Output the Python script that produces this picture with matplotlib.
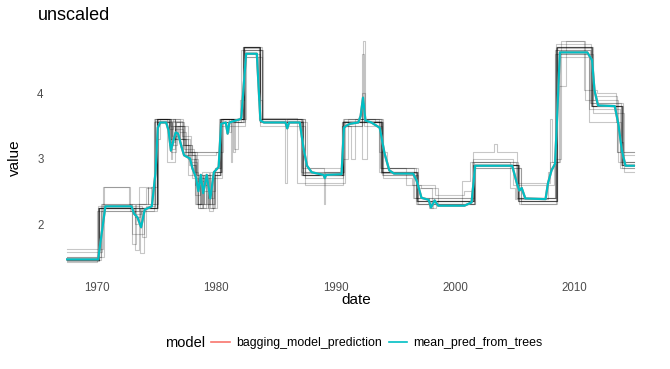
import matplotlib
matplotlib.use('Agg')
import matplotlib.pyplot as plt
from matplotlib.lines import Line2D

plt.rcParams['font.family'] = ['Liberation Sans', 'DejaVu Sans']

# mean of the tree predictions (teal line)
mean_pred = [
    (1967.5, 1.46), (1970.1, 1.46), (1970.7, 2.27), (1972.9, 2.27), (1973.1, 2.16),
    (1973.4, 2.10), (1973.7, 1.95), (1974.0, 2.22), (1974.6, 2.27), (1974.9, 2.77),
    (1975.1, 3.47), (1975.3, 3.55), (1975.8, 3.55), (1976.0, 3.43), (1976.2, 3.12),
    (1976.4, 3.27), (1976.6, 3.40), (1976.8, 3.38), (1977.1, 3.17), (1977.3, 3.05),
    (1977.8, 3.00), (1978.0, 2.85), (1978.3, 2.71), (1978.5, 2.50), (1978.7, 2.75),
    (1978.9, 2.47), (1979.2, 2.75), (1979.5, 2.39), (1979.8, 2.79), (1980.2, 2.87),
    (1980.4, 3.53), (1980.8, 3.55), (1980.95, 3.38), (1981.1, 3.55), (1982.0, 3.60),
    (1982.1, 3.62), (1982.5, 4.60), (1983.4, 4.60), (1983.7, 3.58), (1984.0, 3.55),
    (1985.8, 3.55), (1985.95, 3.46), (1986.1, 3.55), (1987.0, 3.55), (1987.3, 3.17),
    (1987.6, 2.89), (1988.0, 2.79), (1989.0, 2.75), (1989.1, 2.70), (1989.2, 2.75),
    (1990.5, 2.76), (1990.7, 3.47), (1990.9, 3.50), (1991.2, 3.53), (1991.9, 3.55),
    (1992.1, 3.65), (1992.3, 3.93), (1992.5, 3.58), (1993.0, 3.55), (1993.7, 3.47),
    (1994.1, 3.08), (1994.5, 2.82), (1994.9, 2.77), (1996.5, 2.77), (1996.8, 2.66),
    (1997.2, 2.40), (1997.8, 2.37), (1998.0, 2.25), (1998.3, 2.36), (1998.6, 2.28),
    (2000.8, 2.28), (2001.4, 2.33), (2001.7, 2.89), (2004.8, 2.89), (2005.2, 2.62),
    (2005.4, 2.51), (2005.6, 2.55), (2005.9, 2.39), (2007.6, 2.38), (2007.8, 2.62),
    (2008.1, 2.82), (2008.4, 2.92), (2008.8, 4.62), (2011.1, 4.62), (2011.5, 4.50),
    (2011.7, 4.04), (2012.0, 3.81), (2013.4, 3.80), (2013.7, 3.53), (2014.0, 3.12),
    (2014.3, 2.89), (2015.0, 2.89),
]
# bagging prediction sits exactly under the mean line
bagging_pred = list(mean_pred)

# individual trees, step functions (start date, value)
tree_01 = [(1967.5,1.45),(1970.2,2.25),(1973.0,2.2),(1974.0,2.25),(1975.0,3.6),(1976.1,3.15),(1976.5,3.5),(1977.4,3.05),(1978.3,2.75),(1978.6,2.25),(1978.9,2.75),(1979.5,2.25),(1979.8,2.8),(1980.4,3.6),(1982.3,4.7),(1983.7,3.6),(1987.3,2.75),(1990.6,3.55),(1993.9,2.8),(1996.8,2.35),(2001.6,2.9),(2005.3,2.35),(2008.6,4.7),(2011.5,3.8),(2014.0,2.9),(2015.0,2.9)]
tree_02 = [(1967.5,1.42),(1970.0,2.2),(1973.2,2.0),(1973.7,2.2),(1974.8,3.55),(1976.0,3.3),(1976.3,3.55),(1977.0,3.2),(1977.8,2.95),(1978.4,2.3),(1978.7,2.7),(1979.2,2.3),(1979.6,2.75),(1980.3,3.55),(1982.1,4.65),(1983.8,3.55),(1987.1,2.8),(1990.5,3.5),(1992.2,4.0),(1992.5,3.55),(1993.7,2.85),(1996.6,2.4),(2001.4,2.95),(2005.1,2.4),(2008.4,4.6),(2011.2,3.75),(2013.8,2.85),(2015.0,2.85)]
tree_03 = [(1967.5,1.62),(1970.5,2.57),(1972.8,2.2),(1973.5,2.57),(1974.3,2.3),(1974.9,3.6),(1976.2,3.6),(1976.5,3.3),(1977.8,3.1),(1980.3,3.6),(1981.4,3.1),(1981.6,3.6),(1982.2,4.7),(1983.6,3.6),(1987.4,2.6),(1990.6,3.0),(1991.0,3.6),(1993.9,2.85),(1996.9,2.55),(1998.1,2.35),(2001.5,3.1),(2003.3,3.22),(2003.5,3.1),(2005.2,2.62),(2008.0,2.95),(2008.7,4.1),(2009.3,4.8),(2010.9,3.9),(2011.8,3.95),(2013.6,3.1),(2015.0,3.1)]
tree_04 = [(1967.5,1.5),(1970.3,2.3),(1972.9,1.7),(1973.3,2.3),(1974.1,2.55),(1974.6,2.3),(1975.1,3.55),(1976.0,3.2),(1976.7,3.5),(1977.1,3.3),(1977.6,2.75),(1978.1,3.0),(1978.5,2.25),(1979.3,2.7),(1980.5,3.55),(1981.2,2.95),(1981.35,3.55),(1982.4,4.65),(1983.9,3.6),(1985.8,2.62),(1985.95,3.6),(1987.2,2.85),(1989.0,2.3),(1989.15,2.8),(1990.7,3.6),(1992.3,4.8),(1992.45,3.6),(1994.0,2.75),(1996.7,2.3),(2001.7,2.85),(2005.5,2.3),(2008.5,4.75),(2011.4,3.85),(2014.1,2.95),(2015.0,2.95)]
tree_05 = [(1967.5,1.45),(1970.2,2.25),(1973.6,1.55),(1973.9,2.25),(1975.0,3.6),(1976.2,3.1),(1976.6,3.55),(1977.3,3.2),(1978.0,2.7),(1978.5,2.25),(1978.8,2.8),(1979.4,2.2),(1979.7,2.75),(1980.3,3.6),(1982.3,4.7),(1983.7,3.55),(1987.3,2.75),(1990.6,3.55),(1993.8,2.8),(1996.8,2.3),(2001.6,2.9),(2005.4,2.3),(2008.6,4.7),(2011.5,3.8),(2014.0,2.85),(2015.0,2.85)]
tree_06 = [(1967.5,1.45),(1970.1,2.25),(1973.1,2.25),(1975.0,3.6),(1976.0,3.45),(1976.4,3.6),(1977.0,3.3),(1977.5,3.1),(1978.2,2.45),(1978.6,2.7),(1979.0,2.3),(1979.5,2.8),(1980.4,3.6),(1982.2,4.7),(1983.6,3.6),(1987.2,2.75),(1990.5,3.55),(1993.6,2.8),(1996.5,2.4),(1997.8,2.25),(1998.2,2.35),(2001.5,2.9),(2005.2,2.4),(2008.4,4.65),(2011.3,3.85),(2013.9,2.9),(2015.0,2.9)]
tree_07 = [(1967.5,1.58),(1970.4,2.3),(1974.3,2.57),(1974.8,3.6),(1975.9,2.95),(1976.5,3.45),(1977.2,3.1),(1980.2,3.6),(1982.0,3.9),(1982.3,4.55),(1983.8,3.62),(1986.8,2.62),(1990.8,3.55),(1992.2,3.0),(1992.6,3.6),(1993.6,3.1),(1994.3,2.85),(1995.9,2.6),(1997.2,2.55),(1998.6,2.3),(2000.6,2.65),(2001.3,2.95),(2004.6,2.55),(2005.0,2.38),(2007.8,2.8),(2008.0,3.6),(2008.1,2.95),(2008.8,4.55),(2011.2,3.55),(2013.6,3.1),(2013.8,3.25),(2014.1,3.05),(2015.0,3.05)]
tree_08 = [(1967.5,1.45),(1970.3,2.2),(1972.9,1.85),(1973.9,2.2),(1975.0,3.55),(1976.3,3.35),(1976.8,3.5),(1977.6,3.0),(1978.3,2.65),(1979.0,2.5),(1979.9,2.85),(1980.4,3.5),(1982.4,4.6),(1983.7,3.5),(1987.4,2.7),(1990.6,3.5),(1992.2,4.6),(1992.4,3.5),(1993.9,2.75),(1996.9,2.3),(2001.7,2.85),(2005.5,2.35),(2008.6,4.6),(2011.6,3.7),(2014.2,2.8),(2015.0,2.8)]
tree_09 = [(1967.5,1.45),(1970.2,2.25),(1973.2,2.1),(1973.6,2.25),(1975.0,3.6),(1976.1,3.2),(1976.4,3.5),(1977.3,3.15),(1978.1,2.8),(1978.5,2.3),(1979.0,2.75),(1979.6,2.3),(1979.9,2.85),(1980.3,3.6),(1982.3,4.68),(1983.7,3.58),(1987.3,2.78),(1990.6,3.58),(1993.8,2.78),(1996.8,2.35),(1998.0,2.25),(1998.4,2.3),(2001.6,2.9),(2005.3,2.4),(2008.5,4.68),(2011.5,3.8),(2013.9,2.95),(2015.0,2.95)]
tree_10 = [(1967.5,1.5),(1970.6,2.57),(1972.7,2.3),(1973.2,1.6),(1973.5,2.3),(1974.5,2.57),(1975.0,3.3),(1975.3,3.6),(1976.5,3.3),(1977.4,3.2),(1978.0,3.05),(1980.0,3.1),(1980.6,3.6),(1981.5,3.15),(1981.8,3.6),(1982.5,4.55),(1983.5,3.9),(1983.8,3.55),(1987.6,2.85),(1990.5,3.5),(1991.3,3.0),(1991.6,3.6),(1993.3,3.55),(1994.0,2.7),(1996.4,2.6),(1998.3,2.45),(2000.8,2.5),(2001.5,3.0),(2004.9,2.6),(2008.3,3.0),(2008.9,4.8),(2010.8,4.05),(2011.9,4.0),(2013.5,3.55),(2013.9,3.1),(2015.0,3.1)]
tree_11 = [(1967.5,1.45),(1970.1,2.28),(1973.4,2.28),(1973.8,1.8),(1974.1,2.28),(1974.9,3.58),(1976.2,3.0),(1976.3,3.58),(1977.1,3.35),(1977.9,2.9),(1978.2,2.3),(1978.8,2.6),(1979.3,2.25),(1980.1,2.8),(1980.5,3.6),(1981.1,3.4),(1981.2,3.6),(1982.2,4.7),(1983.8,3.6),(1987.1,2.75),(1990.7,3.55),(1993.9,2.8),(1996.7,2.35),(2001.5,2.9),(2005.4,2.35),(2008.6,4.7),(2011.4,3.8),(2014.0,2.9),(2015.0,2.9)]
tree_12 = [(1967.5,1.45),(1970.2,2.25),(1973.0,2.25),(1974.9,3.6),(1975.9,3.6),(1976.2,3.3),(1976.6,3.55),(1977.2,3.1),(1978.4,2.75),(1978.9,2.25),(1979.1,2.75),(1979.6,2.25),(1979.9,2.75),(1980.4,3.55),(1982.3,4.7),(1983.7,3.55),(1987.3,2.75),(1990.6,3.55),(1992.2,3.85),(1992.4,3.55),(1993.8,2.8),(1996.8,2.35),(2001.6,2.9),(2005.3,2.35),(2008.6,4.7),(2011.5,3.8),(2014.0,2.9),(2015.0,2.9)]
tree_13 = [(1967.5,1.43),(1970.2,2.25),(1973.1,2.15),(1973.7,2.25),(1975.1,3.6),(1976.0,3.25),(1976.5,3.6),(1977.2,3.2),(1977.7,2.9),(1978.3,2.3),(1978.7,2.75),(1979.3,2.4),(1979.8,2.8),(1980.4,3.6),(1982.3,4.7),(1983.7,3.6),(1987.4,2.8),(1990.6,3.6),(1993.8,2.85),(1996.7,2.4),(2001.6,2.95),(2005.3,2.4),(2008.5,4.7),(2011.6,3.9),(2013.7,2.95),(2015.0,2.95)]
tree_14 = [(1967.5,1.47),(1970.1,2.25),(1973.2,2.25),(1975.0,3.55),(1976.1,3.5),(1976.9,3.4),(1977.5,3.05),(1978.2,2.6),(1978.6,2.3),(1979.1,2.7),(1979.4,2.3),(1979.8,2.75),(1980.3,3.55),(1982.2,4.65),(1983.8,3.55),(1987.2,2.75),(1990.5,3.55),(1993.9,2.8),(1996.9,2.35),(2001.6,2.9),(2005.3,2.35),(2008.5,4.65),(2011.4,3.8),(2014.1,2.9),(2015.0,2.9)]

trees = [tree_01, tree_02, tree_03, tree_04, tree_05, tree_06, tree_07,
         tree_08, tree_09, tree_10, tree_11, tree_12, tree_13, tree_14]

x_ticks = [1970, 1980, 1990, 2000, 2010]
y_ticks = [2, 3, 4]
red = '#F8766D'
teal = '#00BFC4'
grey = '#4D4D4D'

W, H = 670, 369
fig = plt.figure(figsize=(W / 100, H / 100), dpi=100)
ax = fig.add_axes([52 / W, 1 - 274 / H, 610 / W, (274 - 27.5) / H])

for t in trees:
    d, v = zip(*t)
    ax.step(d, v, where='post', color='black', alpha=0.22, lw=0.8)

d, v = zip(*bagging_pred)
ax.plot(d, v, color=red, lw=1.6)
d, v = zip(*mean_pred)
ax.plot(d, v, color=teal, lw=1.6)

ax.set_xlim(1966.23, 2017.36)
ax.set_ylim(1.237, 5.0)
ax.set_xticks(x_ticks)
ax.set_yticks(y_ticks)
ax.tick_params(length=0, labelsize=8.3, labelcolor=grey, pad=6)
for s in ax.spines.values():
    s.set_visible(False)

fig.text(38 / W, 1 - 15 / H, 'unscaled', fontsize=13, va='center', ha='left')
fig.text(15 / W, 1 - 158 / H, 'value', fontsize=11, rotation=90, va='center', ha='center')
fig.text(356 / W, 1 - 300 / H, 'date', fontsize=11, va='center', ha='center')

fig.text(165 / W, 1 - 343 / H, 'model', fontsize=10.5, va='center', ha='left')
handles = [Line2D([], [], color=red, lw=1.2), Line2D([], [], color=teal, lw=1.2)]
fig.legend(handles, ['bagging_model_prediction', 'mean_pred_from_trees'],
           loc='center left', bbox_to_anchor=(211 / W, 1 - 343 / H), ncol=2,
           frameon=False, fontsize=8.9, handlelength=1.5, handletextpad=0.5,
           columnspacing=0.6, borderaxespad=0, borderpad=0)

fig.savefig('out.png', dpi=100)
